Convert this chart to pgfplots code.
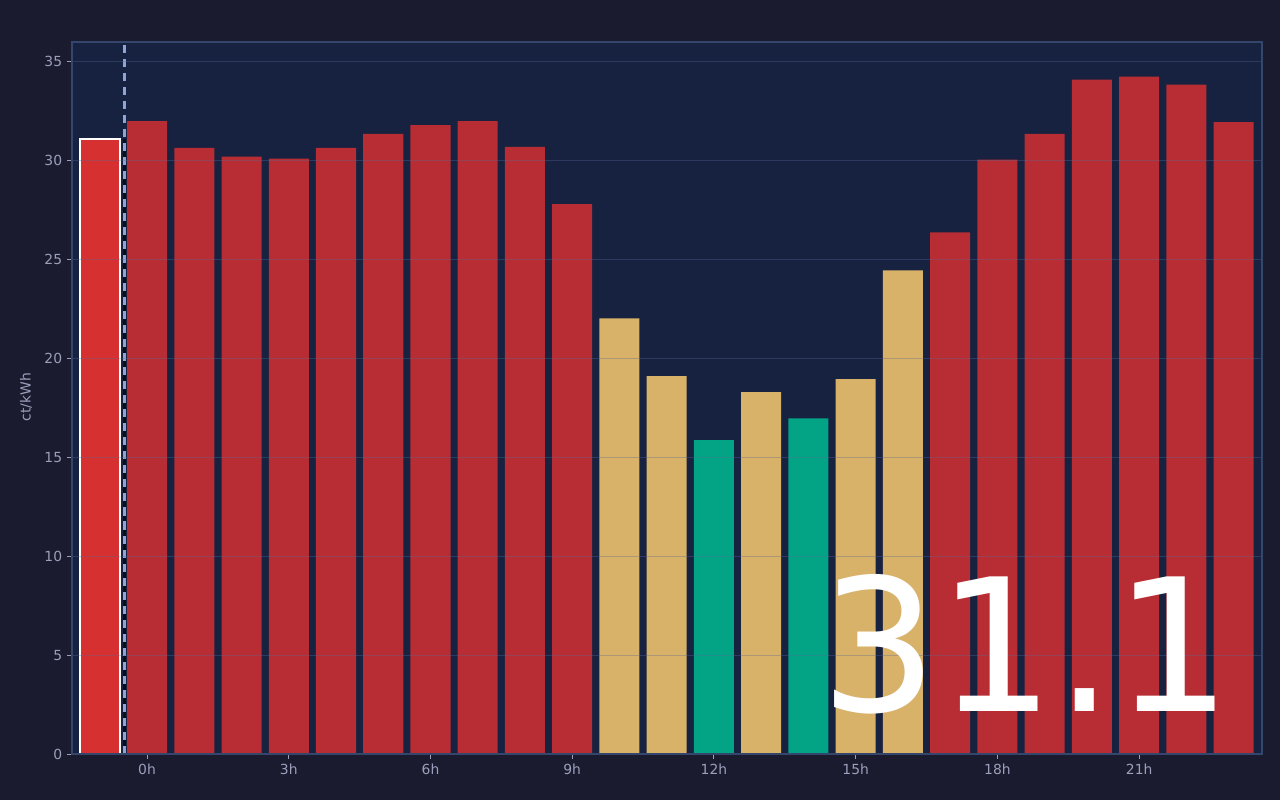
\documentclass[border=0pt]{standalone}
\usepackage{pgfplots}
\pgfplotsset{compat=1.18}
\usepackage{fontspec}
\setmainfont{DejaVu Sans}
\definecolor{outerbg}{HTML}{1A1B2E}
\definecolor{axisbg}{HTML}{172140}
\definecolor{framec}{HTML}{34466B}
\definecolor{gridc}{HTML}{5A6A94}
\definecolor{barred}{HTML}{B82D33}
\definecolor{hired}{HTML}{D63031}
\definecolor{amber}{HTML}{D8B268}
\definecolor{tgreen}{HTML}{03A386}
\definecolor{tickc}{HTML}{9A9FBB}
\definecolor{dashc}{HTML}{8FA3D6}
\definecolor{darkline}{HTML}{0C0E1A}
\begin{document}
\begin{tikzpicture}[x=0.72pt,y=0.72pt]
\fill[outerbg] (0,0) rectangle (1280,800);
\path[use as bounding box] (0,0) rectangle (1280,800);
\begin{axis}[
  at={(72*0.72pt,46*0.72pt)}, anchor=south west,
  scale only axis, width=856.8pt, height=512.64pt,
  xmin=-1.588, xmax=23.6, ymin=0, ymax=36,
  axis background/.style={fill=axisbg},
  axis line style={framec, line width=1pt},
  axis on top,
  ymajorgrids, grid style={gridc, opacity=0.35, line width=0.7pt},
  xtick={0,3,6,9,12,15,18,21},
  xticklabels={0h,3h,6h,9h,12h,15h,18h,21h},
  ytick={0,5,10,15,20,25,30,35},
  tick align=outside, tick pos=left,
  major tick length=3.6pt,
  tick style={tickc, line width=0.7pt},
  ticklabel style={font=\fontsize{10}{12}\selectfont, text=tickc},
  /pgf/number format/assume math mode=true,
  bar width=0.847,
]
\addplot[ybar, bar shift=0pt, fill=barred, draw=none] coordinates {
 (0,32.0) (1,30.65) (2,30.2) (3,30.1) (4,30.65) (5,31.35) (6,31.8) (7,32.0)
 (8,30.7) (9,27.8) (17,26.37) (18,30.05) (19,31.35) (20,34.1) (21,34.25)
 (22,33.85) (23,31.95)
};
\addplot[ybar, bar shift=0pt, fill=amber, draw=none] coordinates {
 (10,22.02) (11,19.1) (13,18.3) (15,18.95) (16,24.45)
};
\addplot[ybar, bar shift=0pt, fill=tgreen, draw=none] coordinates {
 (12,15.87) (14,16.97)
};
\addplot[ybar, bar shift=0pt, fill=hired, draw=white, line width=1.4pt] coordinates {
 (-1,31.1)
};
\addplot[darkline, line width=1.6pt] coordinates {(-0.475,0) (-0.475,31.1)};
\addplot[dashc, line width=1.6pt, dash pattern=on 5.8pt off 4.3pt] coordinates {(-0.475,0) (-0.475,36)};
\end{axis}
\node[rotate=90, text=tickc, font=\fontsize{10}{12}\selectfont] at (26,403) {ct/kWh};
\node[anchor=base, text=white, font=\fontsize{133}{135}\selectfont, inner sep=0pt] at (1026,88) {31.1};
\end{tikzpicture}
\end{document}
